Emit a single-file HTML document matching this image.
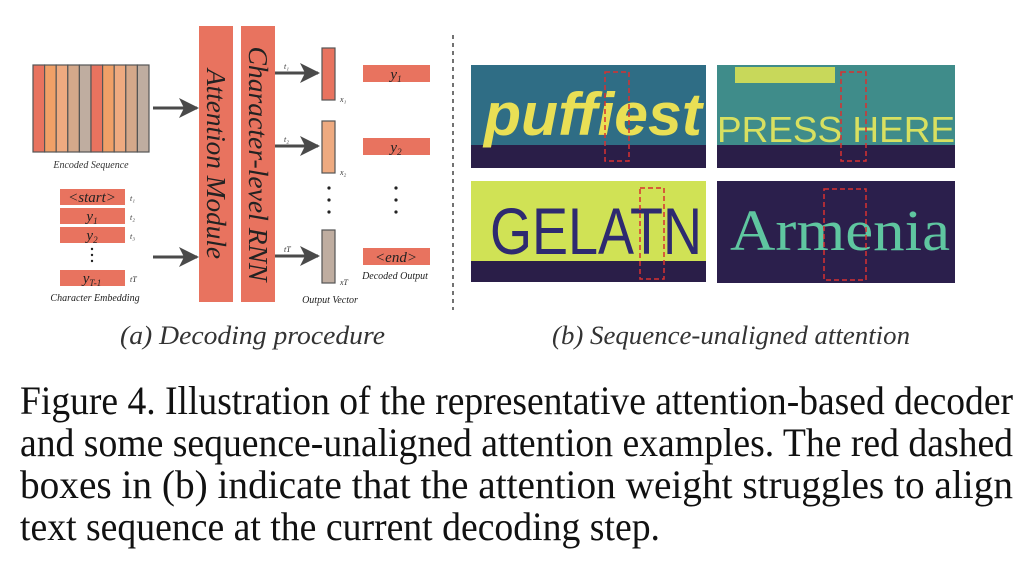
<!DOCTYPE html>
<html><head><meta charset="utf-8"><style>html,body{margin:0;padding:0;background:#fff;width:1024px;height:562px;overflow:hidden}</style></head><body>
<svg width="1024" height="562" viewBox="0 0 1024 562" xmlns="http://www.w3.org/2000/svg" font-family="Liberation Serif, serif">
<defs>
<marker id="ah2" viewBox="0 0 10 10" markerWidth="20" markerHeight="20" refX="9" refY="5" orient="auto" markerUnits="userSpaceOnUse"><path d="M0,0 L10,5 L0,10 L2.5,5 z" fill="#4a4a4a"/></marker></defs>
<g stroke="#555" stroke-width="1.2">
<rect x="33" y="65" width="11.6" height="87" fill="#e8735f"/>
<rect x="44.6" y="65" width="11.6" height="87" fill="#f0a067"/>
<rect x="56.2" y="65" width="11.6" height="87" fill="#eeaa80"/>
<rect x="67.8" y="65" width="11.6" height="87" fill="#d4a88a"/>
<rect x="79.4" y="65" width="11.6" height="87" fill="#bfada0"/>
<rect x="91" y="65" width="11.6" height="87" fill="#e8735f"/>
<rect x="102.6" y="65" width="11.6" height="87" fill="#f0a067"/>
<rect x="114.2" y="65" width="11.6" height="87" fill="#eeaa80"/>
<rect x="125.8" y="65" width="11.6" height="87" fill="#d4a88a"/>
<rect x="137.4" y="65" width="11.6" height="87" fill="#bfada0"/>
</g>
<text x="91" y="168" font-size="10" font-style="italic" text-anchor="middle" fill="#333">Encoded Sequence</text>
<g stroke="#4a4a4a" stroke-width="3" fill="none">
<line x1="153" y1="108" x2="197" y2="108" marker-end="url(#ah2)"/>
<line x1="153" y1="257" x2="197" y2="257" marker-end="url(#ah2)"/>
<line x1="275" y1="73" x2="318" y2="73" marker-end="url(#ah2)"/>
<line x1="275" y1="146" x2="318" y2="146" marker-end="url(#ah2)"/>
<line x1="275" y1="256" x2="318" y2="256" marker-end="url(#ah2)"/>
</g>
<rect x="199" y="26" width="34" height="276" fill="#e8735f"/>
<rect x="241" y="26" width="34" height="276" fill="#e8735f"/>
<text transform="translate(207,164) rotate(90)" font-size="27" font-style="italic" text-anchor="middle" fill="#222" textLength="190" lengthAdjust="spacingAndGlyphs">Attention Module</text>
<text transform="translate(249,164) rotate(90)" font-size="27" font-style="italic" text-anchor="middle" fill="#222" textLength="235" lengthAdjust="spacingAndGlyphs">Character-level RNN</text>
<g font-size="8" font-style="italic" fill="#333">
<text x="284" y="69">t₁</text><text x="284" y="142">t₂</text><text x="284" y="252">tT</text>
<text x="340" y="102">x₁</text><text x="340" y="175">x₂</text><text x="340" y="285">xT</text>
</g>
<g stroke="#555" stroke-width="1.2">
<rect x="322" y="48" width="13" height="52" fill="#e8735f"/>
<rect x="322" y="121" width="13" height="52" fill="#eeaa80"/>
<rect x="322" y="230" width="13" height="53" fill="#bfada0"/>
</g>
<g fill="#222"><circle cx="329" cy="188" r="1.6"/><circle cx="329" cy="200" r="1.6"/><circle cx="329" cy="212" r="1.6"/>
<circle cx="396" cy="188" r="1.6"/><circle cx="396" cy="200" r="1.6"/><circle cx="396" cy="212" r="1.6"/>
<circle cx="92" cy="249" r="1.2"/><circle cx="92" cy="255" r="1.2"/><circle cx="92" cy="261" r="1.2"/></g>
<g fill="#e8735f"><rect x="363" y="65" width="67" height="17"/><rect x="363" y="138" width="67" height="17"/><rect x="363" y="248" width="67" height="17"/>
<rect x="60" y="189" width="65" height="16"/><rect x="60" y="208" width="65" height="16"/><rect x="60" y="227" width="65" height="16"/><rect x="60" y="270" width="65" height="16"/></g>
<g font-style="italic" fill="#222" text-anchor="middle">
<text x="396" y="79" font-size="15">y<tspan font-size="9" dy="3">1</tspan></text>
<text x="396" y="152" font-size="15">y<tspan font-size="9" dy="3">2</tspan></text>
<text x="396" y="262" font-size="15">&lt;end&gt;</text>
<text x="92" y="202" font-size="15">&lt;start&gt;</text>
<text x="92" y="221" font-size="15">y<tspan font-size="9" dy="3">1</tspan></text>
<text x="92" y="240" font-size="15">y<tspan font-size="9" dy="3">2</tspan></text>
<text x="92" y="283" font-size="15">y<tspan font-size="9" dy="3">T-1</tspan></text>
<text x="395" y="279" font-size="10">Decoded Output</text>
<text x="95" y="301" font-size="10">Character Embedding</text>
<text x="330" y="303" font-size="10">Output Vector</text>
</g>
<g font-size="8" font-style="italic" fill="#333"><text x="130" y="201">t₁</text><text x="130" y="220">t₂</text><text x="130" y="239">t₃</text><text x="130" y="282">tT</text></g>
<line x1="453" y1="35" x2="453" y2="310" stroke="#444" stroke-width="1.5" stroke-dasharray="4,4"/>
<rect x="471" y="65" width="235" height="80" fill="#2f6d85"/><rect x="471" y="145" width="235" height="23" fill="#2a1e48"/>
<text x="484" y="135" font-size="60" font-weight="bold" font-style="italic" fill="#e9df55" font-family="Liberation Sans, sans-serif" textLength="218" lengthAdjust="spacingAndGlyphs">puffiest</text>
<rect x="717" y="65" width="238" height="103" fill="#3f8c8a"/><rect x="717" y="145" width="238" height="23" fill="#2a1e48"/>
<rect x="735" y="67" width="100" height="16" fill="#c8d85a"/>
<text x="717" y="142" font-size="36" fill="#d8e060" font-family="Liberation Sans, sans-serif" textLength="238" lengthAdjust="spacingAndGlyphs">PRESS HERE</text>
<rect x="471" y="181" width="235" height="80" fill="#d0e255"/><rect x="471" y="261" width="235" height="21" fill="#2a1e48"/>
<text x="490" y="254" font-size="66" fill="#2e2a70" font-family="Liberation Sans, sans-serif" textLength="212" lengthAdjust="spacingAndGlyphs">GELATN</text>
<rect x="717" y="181" width="238" height="102" fill="#2b1f4c"/>
<text x="730" y="250" font-size="58" fill="#5fc6a0" font-family="Liberation Serif, serif" textLength="220" lengthAdjust="spacingAndGlyphs">Armenia</text>
<g fill="none" stroke="#d83030" stroke-width="1.5" stroke-dasharray="5,3">
<rect x="605" y="72" width="24" height="89"/><rect x="841" y="72" width="25" height="89"/>
<rect x="640" y="188" width="24" height="91"/><rect x="824" y="189" width="42" height="91"/>
</g>
<g font-style="italic" font-size="26" fill="#333">
<text x="120" y="344" textLength="265" lengthAdjust="spacingAndGlyphs">(a) Decoding procedure</text>
<text x="552" y="344" textLength="358" lengthAdjust="spacingAndGlyphs">(b) Sequence-unaligned attention</text>
</g>
<g font-size="40" fill="#111">
<text x="20" y="414" textLength="993" lengthAdjust="spacingAndGlyphs">Figure 4. Illustration of the representative attention-based decoder</text>
<text x="20" y="456" textLength="993" lengthAdjust="spacingAndGlyphs">and some sequence-unaligned attention examples. The red dashed</text>
<text x="20" y="498" textLength="993" lengthAdjust="spacingAndGlyphs">boxes in (b) indicate that the attention weight struggles to align</text>
<text x="20" y="540" textLength="640" lengthAdjust="spacingAndGlyphs">text sequence at the current decoding step.</text>
</g>
</svg>
</body></html>
